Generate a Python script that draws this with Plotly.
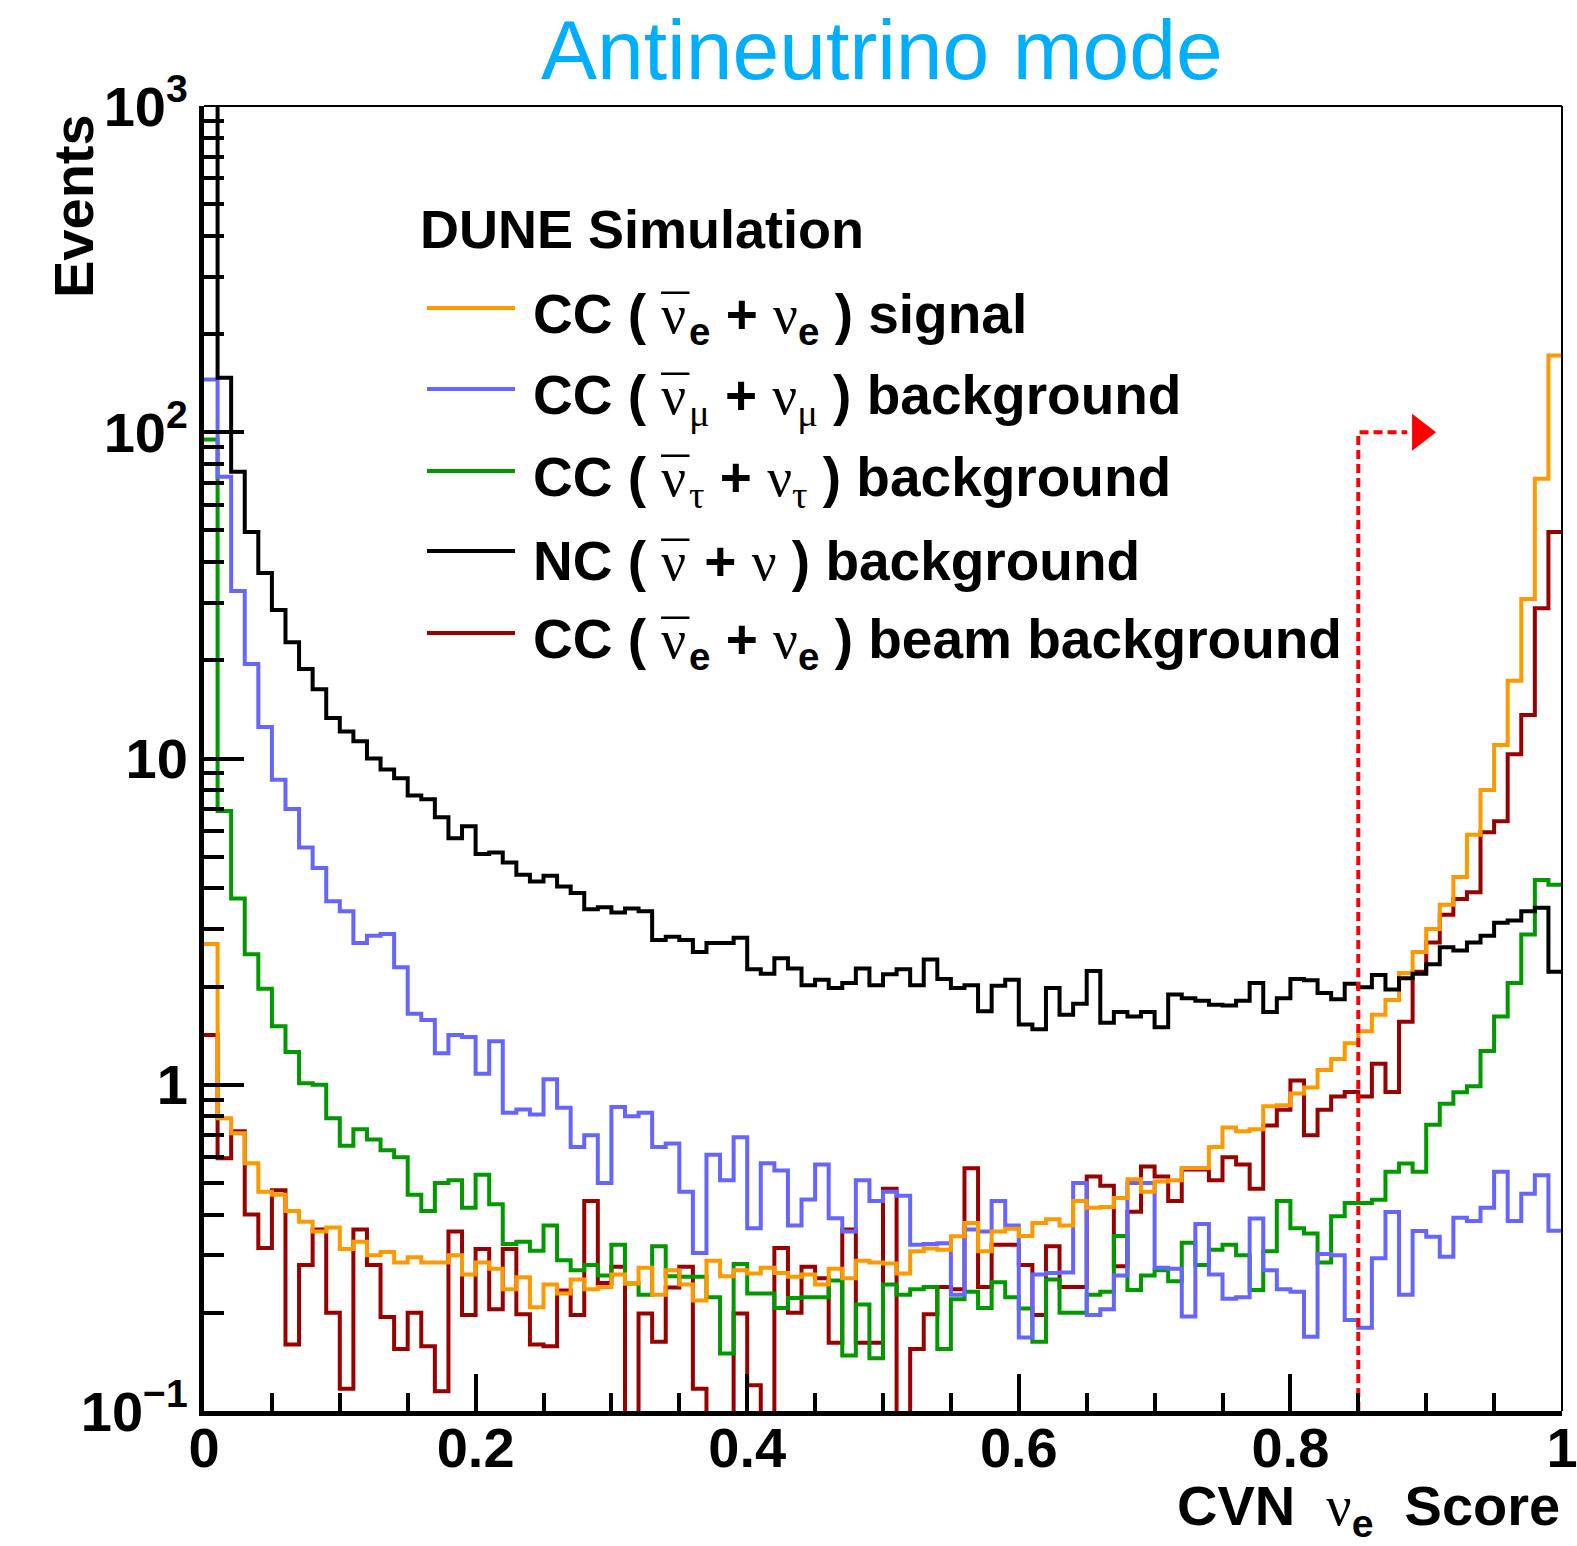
import plotly.graph_objects as go

# ---------------- data (100 bins of CVN nu_e score, 0..1) ----------------
N_BINS = 100
bin_edges = [i / N_BINS for i in range(N_BINS + 1)]

nc_bkg = [1500, 147, 75.7, 49.5, 37, 28.5, 22.7, 18.8, 16.3, 13.3,
          12.1, 11.3, 10.0, 9.25, 8.7, 7.7, 7.5, 6.6, 5.7, 6.2,
          5.1, 5.15, 4.8, 4.4, 4.2, 4.37, 4.05, 3.87, 3.45, 3.5,
          3.37, 3.47, 3.4, 2.78, 2.84, 2.78, 2.55, 2.72, 2.72, 2.82,
          2.26, 2.19, 2.44, 2.27, 2.02, 2.1, 1.98, 2.05, 2.27, 2.02,
          2.18, 2.26, 2.02, 2.42, 2.11, 1.98, 2.02, 1.68, 2.01, 2.1,
          1.53, 1.48, 1.98, 1.64, 1.77, 2.23, 1.55, 1.67, 1.62, 1.67,
          1.5, 1.89, 1.84, 1.81, 1.76, 1.75, 1.81, 2.05, 1.67, 1.84,
          2.11, 2.09, 1.91, 1.83, 2.04, 1.99, 2.17, 1.96, 2.12, 2.19,
          2.34, 2.64, 2.58, 2.73, 2.86, 3.14, 3.19, 3.4, 3.49, 2.22]

numu_bkg = [145, 73, 32.6, 19.5, 12.5, 8.6, 7.0, 5.34, 4.62, 3.65,
            3.4, 2.72, 2.86, 2.9, 2.29, 1.65, 1.58, 1.25, 1.42, 1.40,
            1.08, 1.36, 0.82, 0.84, 0.81, 1.04, 0.85, 0.645, 0.70, 0.50,
            0.854, 0.80, 0.82, 0.645, 0.66, 0.47, 0.305, 0.61, 0.51, 0.69,
            0.363, 0.575, 0.546, 0.37, 0.445, 0.57, 0.39, 0.355, 0.51, 0.44,
            0.47, 0.457, 0.323, 0.325, 0.327, 0.227, 0.36, 0.355, 0.44, 0.37,
            0.168, 0.262, 0.265, 0.266, 0.5, 0.197, 0.205, 0.26, 0.5, 0.5,
            0.275, 0.273, 0.195, 0.374, 0.262, 0.221, 0.223, 0.389, 0.27, 0.236,
            0.232, 0.169, 0.303, 0.3, 0.19, 0.18, 0.294, 0.407, 0.227, 0.356,
            0.342, 0.297, 0.391, 0.382, 0.42, 0.541, 0.382, 0.463, 0.528, 0.357]

nutau_bkg = [95, 6.9, 3.72, 2.51, 1.97, 1.51, 1.26, 1.01, 1.0, 0.79,
             0.65, 0.73, 0.68, 0.63, 0.60, 0.46, 0.41, 0.50, 0.51, 0.42,
             0.53, 0.43, 0.325, 0.33, 0.31, 0.37, 0.29, 0.27, 0.28, 0.26,
             0.323, 0.246, 0.227, 0.32, 0.259, 0.258, 0.258, 0.223, 0.15, 0.282,
             0.229, 0.229, 0.207, 0.222, 0.223, 0.223, 0.251, 0.148, 0.212, 0.145,
             0.244, 0.227, 0.236, 0.24, 0.155, 0.22, 0.232, 0.207, 0.248, 0.223,
             0.206, 0.163, 0.253, 0.2, 0.2, 0.227, 0.232, 0.344, 0.235, 0.26,
             0.27, 0.25, 0.328, 0.28, 0.312, 0.323, 0.3, 0.235, 0.309, 0.44,
             0.363, 0.35, 0.285, 0.395, 0.434, 0.434, 0.444, 0.541, 0.574, 0.541,
             0.754, 0.875, 0.949, 0.99, 1.27, 1.62, 2.05, 2.89, 4.24, 4.1]

nue_signal = [2.7, 0.79, 0.71, 0.575, 0.47, 0.46, 0.41, 0.38, 0.355, 0.365,
              0.314, 0.33, 0.30, 0.307, 0.285, 0.296, 0.285, 0.285, 0.30, 0.262,
              0.285, 0.273, 0.236, 0.257, 0.208, 0.244, 0.229, 0.253, 0.236, 0.24,
              0.262, 0.246, 0.275, 0.227, 0.27, 0.244, 0.218, 0.289, 0.259, 0.27,
              0.264, 0.275, 0.265, 0.258, 0.262, 0.244, 0.273, 0.255, 0.289, 0.285,
              0.283, 0.264, 0.309, 0.315, 0.312, 0.343, 0.377, 0.309, 0.355, 0.362,
              0.344, 0.377, 0.387, 0.37, 0.44, 0.42, 0.422, 0.45, 0.513, 0.47,
              0.505, 0.51, 0.556, 0.556, 0.645, 0.74, 0.72, 0.73, 0.859, 0.865,
              0.94, 0.98, 1.11, 1.2, 1.34, 1.46, 1.64, 1.82, 2.2, 2.55,
              3.0, 3.56, 4.33, 5.84, 8.0, 11.0, 17.3, 30.8, 72, 172]

nue_beam_bkg = [1.42, 0.595, 0.72, 0.40, 0.316, 0.475, 0.16, 0.28, 0.36, 0.20,
                0.117, 0.36, 0.28, 0.194, 0.155, 0.20, 0.158, 0.115, 0.355, 0.197,
                0.314, 0.205, 0.314, 0.198, 0.16, 0.158, 0.234, 0.197, 0.44, 0.247,
                0.277, 0.05, 0.199, 0.163, 0.239, 0.277, 0.117, 0.05, 0.05, 0.199,
                0.12, 0.05, 0.316, 0.2, 0.277, 0.255, 0.162, 0.36, 0.162, 0.162,
                0.48, 0.05, 0.155, 0.198, 0.24, 0.236, 0.555, 0.24, 0.323, 0.323,
                0.28, 0.197, 0.32, 0.24, 0.24, 0.523, 0.49, 0.278, 0.408, 0.562,
                0.523, 0.44, 0.55, 0.55, 0.51, 0.6, 0.57, 0.48, 0.75, 0.838,
                1.03, 0.70, 0.838, 0.92, 0.95, 0.92, 1.16, 0.95, 1.56, 2.22,
                2.73, 3.32, 3.71, 3.89, 5.94, 6.42, 10.3, 13.6, 28.9, 49.5]

cut_value = 0.85
cut_marker_height = 100
arrow_line_end = 0.886
arrow_head_x = 0.8955

y_tickvals = [0.1, 1, 10, 100, 1000]
y_ticktext = ["10<sup>\u22121</sup>", "1", "10", "10<sup>2</sup>", "10<sup>3</sup>"]
x_tickvals = [0, 0.2, 0.4, 0.6, 0.8, 1]
x_ticktext = ["0", "0.2", "0.4", "0.6", "0.8", "1"]

# ---------------- styling ----------------
SANS = "Liberation Sans, Arial, Helvetica, sans-serif"
GREEK = "Liberation Serif"
NU = '<span style="font-family:%s;font-weight:normal">\u03bd</span>' % GREEK
NUBAR = ('<span style="font-family:%s;font-weight:normal;letter-spacing:-0.45em">\u03bd</span>'
         '<span style="font-family:%s;font-weight:normal">\u00af</span>') % (GREEK, GREEK)


def sub_greek(ch):
    return '<sub><span style="font-family:%s;font-weight:normal">%s</span></sub>' % (GREEK, ch)


series = [
    ("CC ( " + NUBAR + "<sub>e</sub> + " + NU + "<sub>e</sub> ) signal", nue_signal, "#FF9900"),
    ("CC ( " + NUBAR + sub_greek("\u03bc") + " + " + NU + sub_greek("\u03bc") + " ) background", numu_bkg, "#6666FF"),
    ("CC ( " + NUBAR + sub_greek("\u03c4") + " + " + NU + sub_greek("\u03c4") + " ) background", nutau_bkg, "#009900"),
    ("NC ( " + NUBAR + " + " + NU + " ) background", nc_bkg, "#000000"),
    ("CC ( " + NUBAR + "<sub>e</sub> + " + NU + "<sub>e</sub> ) beam background", nue_beam_bkg, "#990000"),
]

fig = go.Figure()

draw_order = [4, 2, 1, 0, 3]
for idx in draw_order:
    name, vals, color = series[idx]
    fig.add_trace(go.Scatter(
        x=bin_edges, y=list(vals) + [vals[-1]],
        mode="lines", line=dict(color=color, width=4, shape="hv"),
        name=name, showlegend=False, hoverinfo="skip",
    ))

# selection cut marker
fig.add_trace(go.Scatter(
    x=[cut_value, cut_value, arrow_line_end],
    y=[y_tickvals[0], cut_marker_height, cut_marker_height],
    mode="lines", line=dict(color="#FF0000", width=4, dash="9px,5px"),
    showlegend=False, hoverinfo="skip",
))
fig.add_trace(go.Scatter(
    x=[arrow_head_x], y=[cut_marker_height], mode="markers",
    marker=dict(symbol="triangle-right", size=32, color="#FF0000", line=dict(width=0)),
    showlegend=False, hoverinfo="skip",
))

# plot geometry in pixels
W, H = 1577, 1546
L, R, T, B = 204, 15, 106, 135
PW, PH = W - L - R, H - T - B


def px(xp):
    return (xp - L) / PW


def py(yp):
    return 1 - (yp - T) / PH


annotations = []
shapes = []

# title
annotations.append(dict(text="Antineutrino mode", x=px(882), y=py(50), xref="paper", yref="paper",
                        xanchor="center", yanchor="middle", showarrow=False,
                        font=dict(family=SANS, size=84, color="#00AEFF")))

# y-axis title
annotations.append(dict(text="<b>Events</b>", x=px(74), y=py(206), xref="paper", yref="paper",
                        xanchor="center", yanchor="middle", textangle=-90, showarrow=False,
                        font=dict(family=SANS, size=56, color="black")))
# x-axis title
annotations.append(dict(text="<b>CVN  " + NU + "<sub>e</sub>  Score</b>", x=1.0, y=py(1509), xref="paper", yref="paper",
                        xanchor="right", yanchor="middle", showarrow=False,
                        font=dict(family=SANS, size=56, color="black")))

# legend header
annotations.append(dict(text="<b>DUNE Simulation</b>", x=px(418), y=py(229), xref="paper", yref="paper",
                        xanchor="left", yanchor="middle", showarrow=False,
                        font=dict(family=SANS, size=54, color="black")))

row_y = [311, 392, 474, 554, 636]
for (name, vals, color), yy in zip(series, row_y):
    annotations.append(dict(text="<b>" + name + "</b>", x=px(531), y=py(yy), xref="paper", yref="paper",
                            xanchor="left", yanchor="middle", showarrow=False, yshift=-7,
                            font=dict(family=SANS, size=55, color="black")))
    shapes.append(dict(type="line", xref="paper", yref="paper", x0=px(427), x1=px(515),
                       y0=py(yy - 3), y1=py(yy - 3), line=dict(color=color, width=4)))

# thin top and right frame
shapes.append(dict(type="line", xref="paper", yref="paper", x0=0, x1=1, y0=1, y1=1,
                   line=dict(color="black", width=2)))
shapes.append(dict(type="line", xref="paper", yref="paper", x0=1, x1=1, y0=0, y1=1,
                   line=dict(color="black", width=2)))

minor_y = [m * d for d in (0.1, 1, 10, 100) for m in range(2, 10)]

fig.update_layout(
    width=W, height=H,
    margin=dict(l=L, r=R, t=T, b=B, pad=0, autoexpand=False),
    paper_bgcolor="white", plot_bgcolor="white",
    font=dict(family=SANS, color="black"),
    annotations=annotations, shapes=shapes,
    xaxis=dict(range=[0, 1], showgrid=False, zeroline=False, automargin=False,
               showline=True, linecolor="black", linewidth=5,
               ticks="inside", ticklen=37, tickwidth=4, tickcolor="black",
               tickmode="array", tickvals=x_tickvals, ticktext=["<b>%s</b>" % t for t in x_ticktext],
               tickfont=dict(family=SANS, size=56, color="black"),
               ticklabeloverflow="allow", ticklabelstandoff=-16,
               minor=dict(ticks="inside", ticklen=18, tickwidth=4, tickcolor="black",
                          dtick=0.05, tick0=0, showgrid=False)),
    yaxis=dict(type="log", range=[-1, 3], showgrid=False, zeroline=False, automargin=False,
               showline=True, linecolor="black", linewidth=5,
               ticks="inside", ticklen=40, tickwidth=4, tickcolor="black",
               tickmode="array", tickvals=y_tickvals, ticktext=["<b>%s</b>" % t for t in y_ticktext],
               tickfont=dict(family=SANS, size=56, color="black"),
               ticklabeloverflow="allow",
               minor=dict(ticks="inside", ticklen=20, tickwidth=4, tickcolor="black",
                          tickmode="array", tickvals=minor_y, showgrid=False)),
)

fig.write_html("out.html")
